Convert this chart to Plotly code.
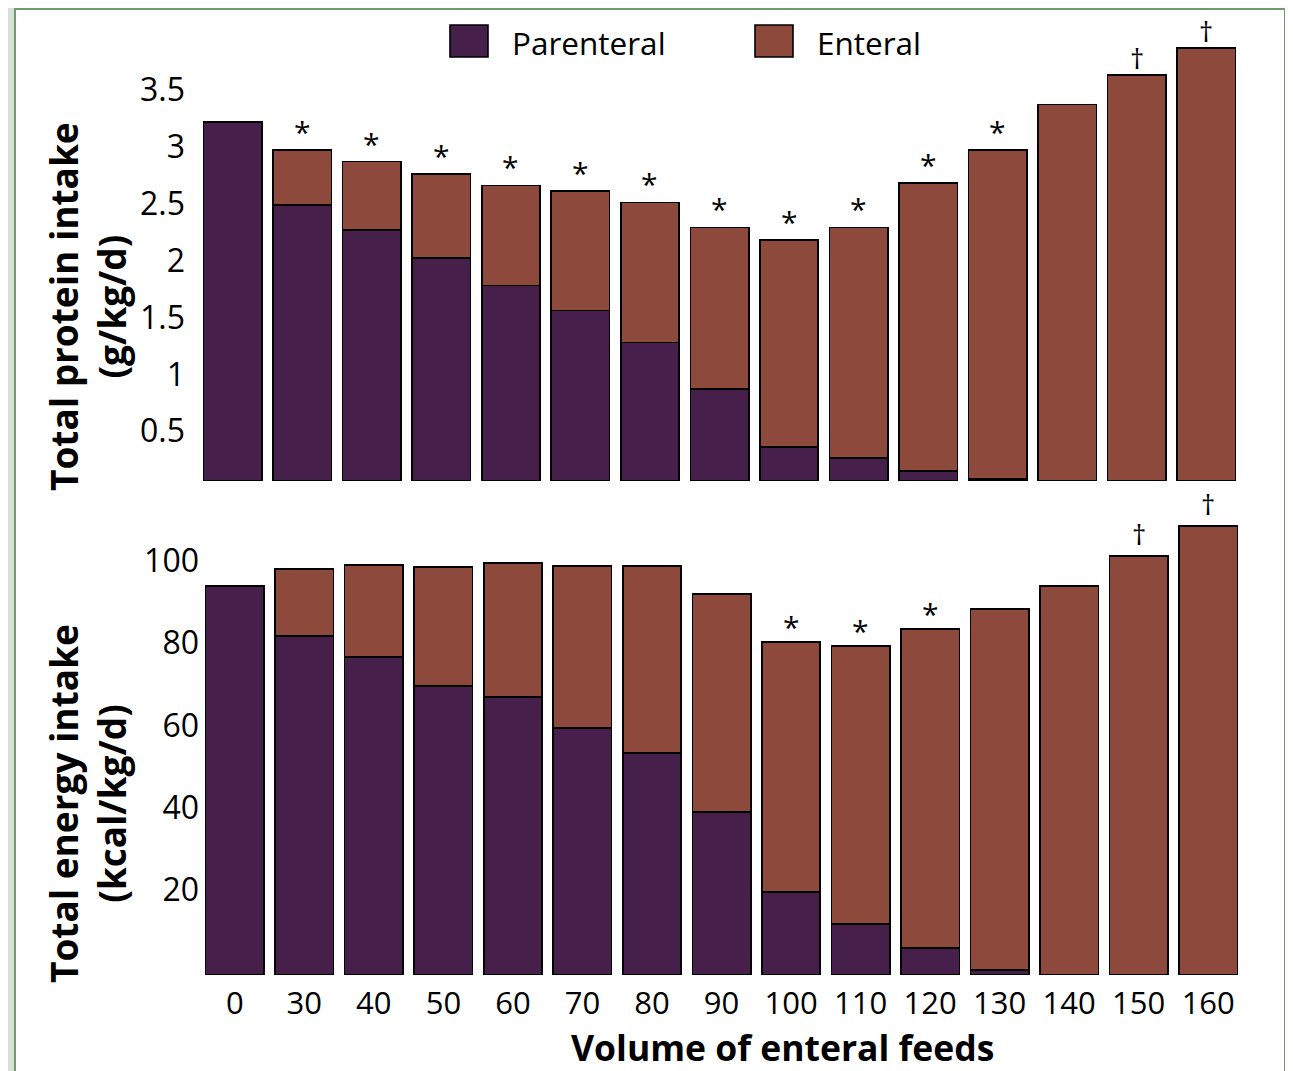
import plotly.graph_objects as go

# ---------------- data ----------------
categories = ["0", "30", "40", "50", "60", "70", "80", "90", "100", "110", "120", "130", "140", "150", "160"]

protein_parenteral = [3.16, 2.43, 2.21, 1.96, 1.72, 1.50, 1.22, 0.81, 0.30, 0.20, 0.09, 0.02, 0.0, 0.0, 0.0]
protein_enteral    = [0.00, 0.48, 0.60, 0.74, 0.88, 1.05, 1.23, 1.42, 1.82, 2.03, 2.53, 2.89, 3.31, 3.57, 3.81]
protein_marks      = ["", "*", "*", "*", "*", "*", "*", "*", "*", "*", "*", "*", "", "†", "†"]

energy_parenteral = [94.6, 82.5, 77.4, 70.3, 67.6, 60.1, 54.0, 39.7, 20.2, 12.4, 6.6, 1.2, 0.0, 0.0, 0.0]
energy_enteral    = [0.0, 16.3, 22.4, 29.0, 32.6, 39.4, 45.5, 53.0, 60.8, 67.6, 77.6, 87.9, 94.6, 101.9, 109.2]
energy_marks      = ["", "", "", "", "", "", "", "", "*", "*", "*", "", "", "†", "†"]

protein_ticks = [0.5, 1, 1.5, 2, 2.5, 3, 3.5]
protein_ticklabels = ["0.5", "1", "1.5", "2", "2.5", "3", "3.5"]
energy_ticks = [20, 40, 60, 80, 100]
energy_ticklabels = ["20", "40", "60", "80", "100"]

series_names = ["Parenteral", "Enteral"]
colors = ["#46204A", "#8D493C"]

# ---------------- layout helpers ----------------
W, H = 1293, 1071
OFF = 8  # page body margin
def fx(px):
    return (px - OFF) / W
def fy(py):
    return 1 - (py - OFF) / H

FONT = "Open Sans"

fig = go.Figure()

line = dict(color="black", width=1.6)

# top panel
fig.add_trace(go.Bar(x=categories, y=protein_parenteral, name=series_names[0],
                     marker=dict(color=colors[0], line=line), xaxis="x", yaxis="y", showlegend=False))
fig.add_trace(go.Bar(x=categories, y=protein_enteral, name=series_names[1],
                     marker=dict(color=colors[1], line=line), xaxis="x", yaxis="y", showlegend=False))
# bottom panel
fig.add_trace(go.Bar(x=categories, y=energy_parenteral, name=series_names[0],
                     marker=dict(color=colors[0], line=line), xaxis="x2", yaxis="y2", showlegend=False))
fig.add_trace(go.Bar(x=categories, y=energy_enteral, name=series_names[1],
                     marker=dict(color=colors[1], line=line), xaxis="x2", yaxis="y2", showlegend=False))

annotations = []
def mark_font(m):
    return dict(family=FONT, size=30 if m == "*" else 28, color="black")

for i, (p, e, m) in enumerate(zip(protein_parenteral, protein_enteral, protein_marks)):
    if m:
        annotations.append(dict(x=i, y=p + e, xref="x", yref="y", text=m, showarrow=False,
                                xanchor="center", yanchor="bottom",
                                yshift=-4, font=mark_font(m)))
for i, (p, e, m) in enumerate(zip(energy_parenteral, energy_enteral, energy_marks)):
    if m:
        annotations.append(dict(x=i, y=p + e, xref="x2", yref="y2", text=m, showarrow=False,
                                xanchor="center", yanchor="bottom",
                                yshift=(-7 if m == "*" else 1), font=mark_font(m)))

# axis titles
title_font = dict(family=FONT, size=37, color="black")
annotations.append(dict(x=fx(87), y=fy(307), xref="paper", yref="paper", showarrow=False,
                        xanchor="center", yanchor="middle",
                        text="<b>Total protein intake</b><br><b>(g/kg/d)</b>", textangle=-90,
                        font=title_font, align="center"))
annotations.append(dict(x=fx(87), y=fy(804), xref="paper", yref="paper", showarrow=False,
                        xanchor="center", yanchor="middle",
                        text="<b>Total energy intake</b><br><b>(kcal/kg/d)</b>", textangle=-90,
                        font=title_font, align="center"))
annotations.append(dict(x=fx(782), y=fy(1047), xref="paper", yref="paper", showarrow=False,
                        xanchor="center", yanchor="middle",
                        text="<b>Volume of enteral feeds</b>",
                        font=dict(family=FONT, size=35.5, color="black")))

# manual legend + panel
shapes = [
    dict(type="rect", xref="paper", yref="paper", x0=fx(15), x1=fx(1285), y0=fy(1100), y1=fy(9),
         fillcolor="white", line=dict(color="#6E9A6E", width=2), layer="below"),
    dict(type="rect", xref="paper", yref="paper", x0=fx(450), x1=fx(488), y0=fy(57), y1=fy(25),
         fillcolor=colors[0], line=dict(color="black", width=1.6)),
    dict(type="rect", xref="paper", yref="paper", x0=fx(755), x1=fx(793), y0=fy(57), y1=fy(25),
         fillcolor=colors[1], line=dict(color="black", width=1.6)),
]
legend_font = dict(family=FONT, size=31.5, color="black")
annotations.append(dict(x=fx(510), y=fy(42), xref="paper", yref="paper", showarrow=False,
                        text=series_names[0], xanchor="left", yanchor="middle", font=legend_font))
annotations.append(dict(x=fx(815), y=fy(42), xref="paper", yref="paper", showarrow=False,
                        text=series_names[1], xanchor="left", yanchor="middle", font=legend_font))

tickfont = dict(family=FONT, size=32, color="black")

fig.update_layout(
    template="none",
    width=W, height=H,
    autosize=False,
    margin=dict(l=0, r=0, t=0, b=0, pad=0),
    paper_bgcolor="#D6E0D6",
    plot_bgcolor="rgba(0,0,0,0)",
    barmode="stack",
    bargap=0.16,
    showlegend=False,
    annotations=annotations,
    shapes=shapes,
    xaxis=dict(type="category", domain=[fx(198), fx(1241)], anchor="y", showticklabels=False,
               range=[-0.5, len(categories) - 0.5],
               showgrid=False, zeroline=False, showline=False, ticks="", automargin=False),
    yaxis=dict(domain=[fy(481), fy(37.6)], anchor="x", range=[0, 3.9], tickvals=protein_ticks,
               ticktext=protein_ticklabels, showgrid=False, zeroline=False, showline=False,
               ticks="", tickfont=tickfont, ticklabelstandoff=12, ticklabelshift=7, automargin=False),
    xaxis2=dict(type="category", domain=[fx(200), fx(1243)], anchor="y2", showgrid=False,
                range=[-0.5, len(categories) - 0.5],
                zeroline=False, showline=False, ticks="", tickfont=dict(family=FONT, size=31, color="black"),
                tickangle=0, ticklabelstandoff=7, automargin=False),
    yaxis2=dict(domain=[fy(975), fy(514.7)], anchor="x2", range=[0, 112], tickvals=energy_ticks,
                ticktext=energy_ticklabels, showgrid=False, zeroline=False, showline=False,
                ticks="", tickfont=tickfont, ticklabelstandoff=0, ticklabelshift=-3, automargin=False),
)

fig.write_html("out.html")
